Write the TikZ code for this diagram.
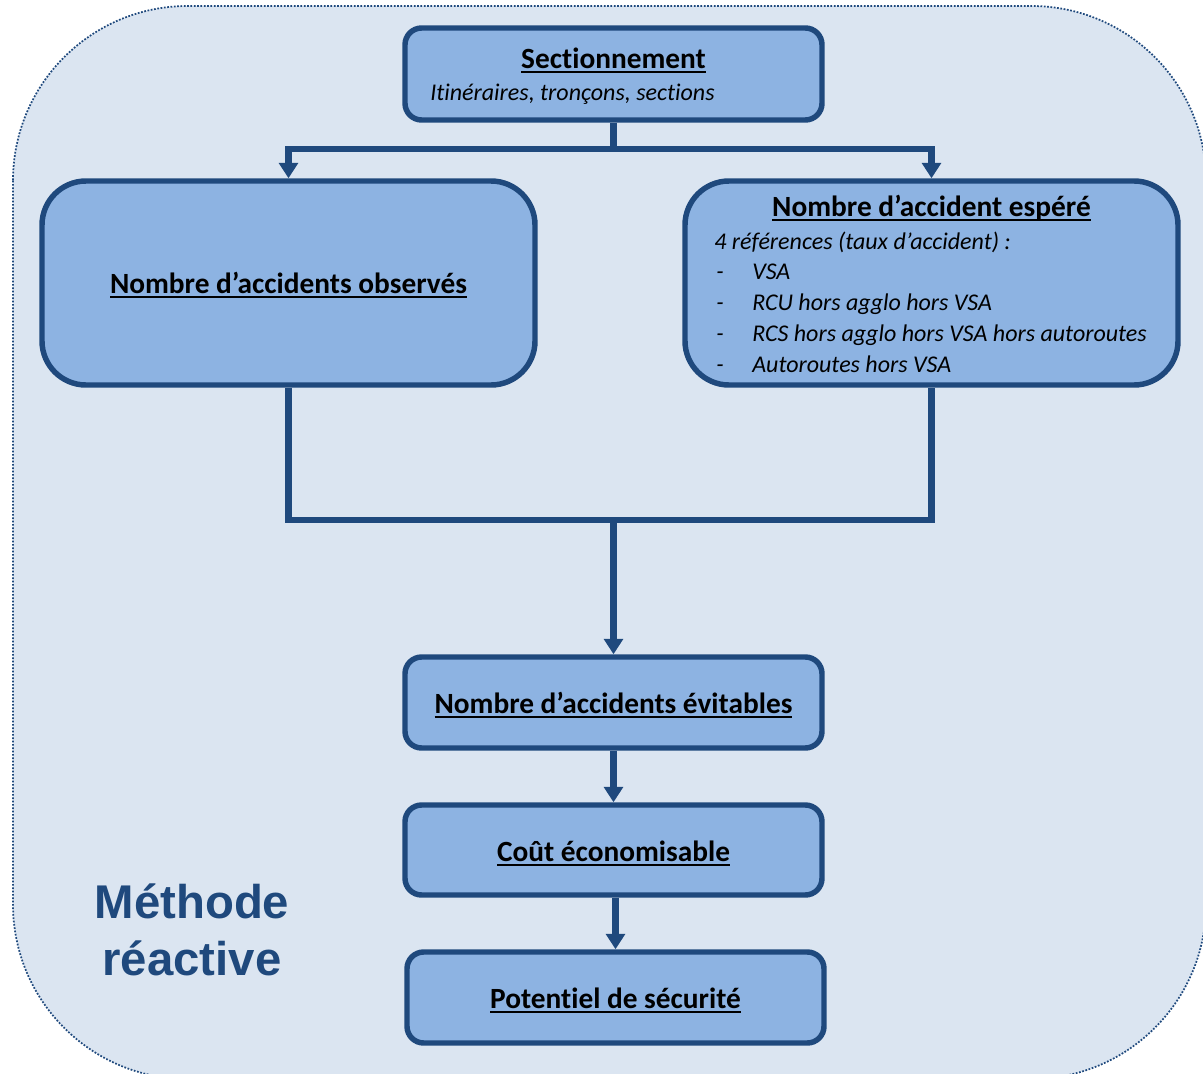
\documentclass[tikz,border=0pt]{standalone}
\usepackage{fontspec}
\setmainfont{Carlito}[Ligatures={NoCommon}]
\newfontfamily\headfont{Liberation Sans}
\usetikzlibrary{arrows.meta,fit}

% underline drawn at a fixed depth below the baseline
\newsavebox\ulbox
\newcommand\uln[1]{\sbox\ulbox{#1}\rlap{\rule[-3.4pt]{\wd\ulbox}{1.3pt}}\usebox\ulbox}

\definecolor{frame}{HTML}{1F497D}
\definecolor{boxfill}{HTML}{8DB3E2}
\definecolor{panel}{HTML}{DBE5F1}

\tikzset{
  stepbox/.style={draw=frame, fill=boxfill, line width=4.1pt, rounded corners=12.5pt, inner sep=0pt},
  bigbox/.style={stepbox, rounded corners=33pt},
  title/.style={anchor=base, inner sep=0pt, font=\bfseries\fontsize{22}{26}\selectfont},
  sub/.style={anchor=base west, inner sep=0pt, font=\itshape\fontsize{18}{21}\selectfont},
  link/.style={draw=frame, line width=4.6pt},
  arrow/.style={link, -{Triangle[width=14pt,length=11.5pt]}},
  label/.style={anchor=base, inner sep=0pt, text=frame, font=\headfont\bfseries\fontsize{35.5}{40}\selectfont}
}

\begin{document}
\begin{tikzpicture}[x=0.75pt,y=-0.75pt]
\useasboundingbox (0,0) rectangle (1203,1074);
\clip (0,0) rectangle (1203,1074);

% background panel
\path[fill=panel, draw=frame, line width=1.3pt, dash pattern=on 1.3pt off 1.2pt, rounded corners=131pt]
  (13,6) rectangle (1206,1079);

% boxes
\node[stepbox, fit={(405,28) (822,120)}] (sec) {};
\node[bigbox, fit={(42,181) (535,385)}] (obs) {};
\node[bigbox, fit={(685,181) (1178,385)}] (esp) {};
\node[stepbox, fit={(405,657) (822,748)}] (evit) {};
\node[stepbox, fit={(405,805) (822,895)}] (cout) {};
\node[stepbox, fit={(407,952) (824,1043)}] (pot) {};

% texts
\node[title] (sect) at (613.5,68.5) {\uln{Sectionnement}};
\node[sub] (secs) at (430,100.5) {Itinéraires, tronçons, sections};
\node[title] (obst) at (288.5,293.5) {\uln{Nombre d’accidents observés}};
\node[title] (espt) at (931.5,216) {\uln{Nombre d’accident espéré}};
\node[sub] (esp0) at (714,249) {4 références (taux d’accident) :};
\node[sub] (d1) at (716,279) {-};
\node[sub] (esp1) at (752,279) {VSA};
\node[sub] (d2) at (716,310) {-};
\node[sub] (esp2) at (752,310) {RCU hors agglo hors VSA};
\node[sub] (d3) at (716,341) {-};
\node[sub] (esp3) at (752,341) {RCS hors agglo hors VSA hors autoroutes};
\node[sub] (d4) at (716,372) {-};
\node[sub] (esp4) at (752,372) {Autoroutes hors VSA};
\node[title] (evitt) at (613.5,713) {\uln{Nombre d’accidents évitables}};
\node[title] (coutt) at (613.5,861) {\uln{Coût économisable}};
\node[title] (pott) at (615.5,1008) {\uln{Potentiel de sécurité}};

\node[label] (m1) at (192,918) {Méthode};
\node[label] (m2) at (192,975) {réactive};

% connectors
\coordinate (split) at (613.5,149);
\coordinate (merge) at (613.5,520);
\draw[link] (sec.south) -- (split);
\draw[arrow] (split) -| (obs.north);
\draw[arrow] (split) -| (esp.north);
\draw[link] (obs.south) |- (merge) -| (esp.south);
\draw[arrow] (merge) -- (evit.north);
\draw[arrow] (evit.south) -- (cout.north);
\draw[arrow] (cout.south -| pot.north) -- (pot.north);
\end{tikzpicture}
\end{document}
